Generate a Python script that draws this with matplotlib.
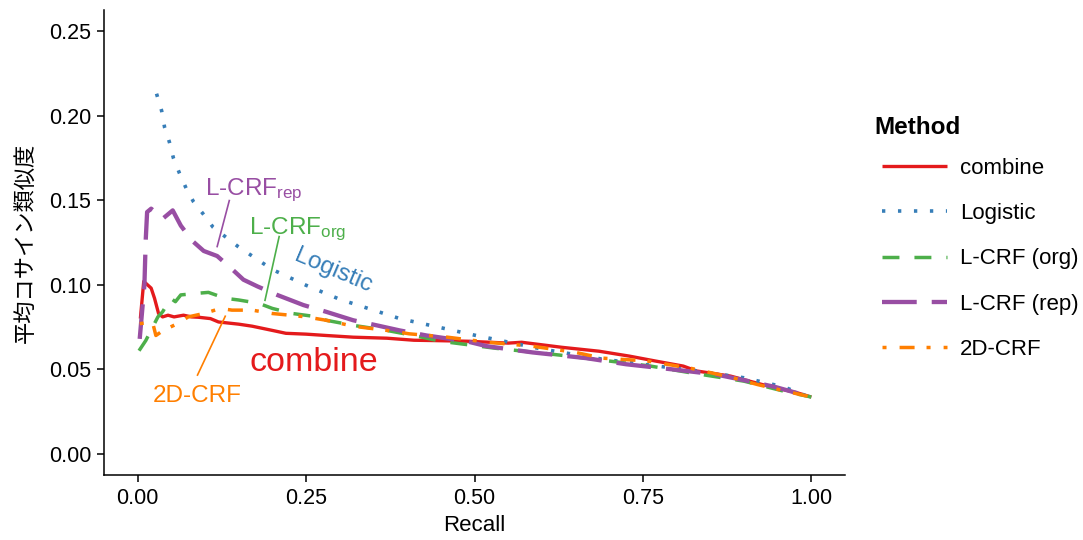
import matplotlib
matplotlib.use("Agg")
import matplotlib.pyplot as plt

plt.rcParams['font.family'] = ['Liberation Sans', 'Noto Sans CJK JP', 'DejaVu Sans']
plt.rcParams['mathtext.fontset'] = 'custom'
plt.rcParams['mathtext.rm'] = 'Liberation Sans'
plt.rcParams['mathtext.it'] = 'Liberation Sans'
plt.rcParams['lines.scale_dashes'] = False

# ---------------- data ----------------
combine_r = [0.004, 0.009, 0.02, 0.025, 0.031, 0.037, 0.045, 0.054, 0.068, 0.08, 0.09, 0.108, 0.12, 0.15,
             0.17, 0.2, 0.22, 0.25, 0.28, 0.32, 0.37, 0.41, 0.44, 0.49, 0.55, 0.57, 0.63, 0.685,
             0.73, 0.77, 0.81, 0.83, 0.88, 0.93, 0.98, 1.0]
combine_v = [0.080, 0.102, 0.098, 0.092, 0.083, 0.081, 0.082, 0.081, 0.082, 0.081, 0.0808, 0.080, 0.078, 0.0767,
             0.0755, 0.073, 0.0713, 0.0708, 0.070, 0.069, 0.0684, 0.0672, 0.067, 0.0666, 0.0655, 0.066, 0.063, 0.0607,
             0.0578, 0.0548, 0.0519, 0.049, 0.046, 0.0407, 0.036, 0.0336]

logistic_r = [0.028, 0.0355, 0.040, 0.047, 0.053, 0.062, 0.072, 0.083, 0.098, 0.112, 0.149, 0.2, 0.25,
              0.3, 0.389, 0.5, 0.6, 0.69, 0.83, 0.9, 0.96, 1.0]
logistic_v = [0.213, 0.203, 0.193, 0.1845, 0.175, 0.166, 0.157, 0.149, 0.1415, 0.134, 0.1226, 0.109, 0.0997,
              0.0914, 0.080, 0.0702, 0.062, 0.056, 0.049, 0.045, 0.0395, 0.033]

lcrf_org_r = [0.002, 0.012, 0.03, 0.037, 0.049, 0.056, 0.064, 0.09, 0.105, 0.13, 0.15, 0.18, 0.2, 0.23,
              0.26, 0.28, 0.32, 0.37, 0.415, 0.45, 0.53, 0.6, 0.64, 0.76, 0.82, 0.9, 0.96, 1.0]
lcrf_org_v = [0.061, 0.067, 0.081, 0.084, 0.092, 0.090, 0.094, 0.095, 0.0955, 0.092, 0.091, 0.089, 0.086, 0.083,
              0.0814, 0.079, 0.076, 0.073, 0.0696, 0.0666, 0.0625, 0.0596, 0.0578, 0.052, 0.048, 0.043, 0.037, 0.0336]

lcrf_rep_r = [0.003, 0.01, 0.012, 0.014, 0.02, 0.037, 0.052, 0.064, 0.081, 0.098, 0.118, 0.138, 0.157, 0.178,
              0.207, 0.246, 0.28, 0.32, 0.355, 0.389, 0.429, 0.488, 0.518, 0.586, 0.666, 0.725,
              0.793, 0.858, 0.907, 0.947, 1.0]
lcrf_rep_v = [0.068, 0.100, 0.127, 0.143, 0.145, 0.139, 0.144, 0.135, 0.126, 0.120, 0.117, 0.110, 0.103, 0.099,
              0.094, 0.088, 0.084, 0.079, 0.076, 0.073, 0.070, 0.0666, 0.0637, 0.060, 0.0566, 0.053,
              0.050, 0.047, 0.043, 0.0395, 0.0336]

crf2d_r = [0.003, 0.022, 0.027, 0.038, 0.059, 0.075, 0.098, 0.123, 0.14, 0.17, 0.2, 0.226, 0.25, 0.28,
           0.32, 0.35, 0.38, 0.403, 0.46, 0.52, 0.585, 0.65, 0.69, 0.755, 0.82, 0.88, 0.92, 0.955, 1.0]
crf2d_v = [0.077, 0.078, 0.070, 0.073, 0.077, 0.081, 0.083, 0.086, 0.085, 0.085, 0.083, 0.082, 0.081, 0.079,
           0.0755, 0.074, 0.0725, 0.071, 0.069, 0.066, 0.0637, 0.060, 0.0566, 0.055, 0.0507, 0.0454, 0.041, 0.0377, 0.0336]

methods = ['combine', 'Logistic', 'L-CRF (org)', 'L-CRF (rep)', '2D-CRF']
colors = ['#E41A1C', '#377EB8', '#4DAF4A', '#984EA3', '#FF7F00']
x_ticks = [0.00, 0.25, 0.50, 0.75, 1.00]
x_ticklabels = ['0.00', '0.25', '0.50', '0.75', '1.00']
y_ticks = [0.00, 0.05, 0.10, 0.15, 0.20, 0.25]
y_ticklabels = ['0.00', '0.05', '0.10', '0.15', '0.20', '0.25']

series = [(combine_r, combine_v), (logistic_r, logistic_v), (lcrf_org_r, lcrf_org_v),
          (lcrf_rep_r, lcrf_rep_v), (crf2d_r, crf2d_v)]
widths = [2.4, 2.6, 2.5, 3.1, 2.5]
dash_styles = ['solid', (0, (2.4, 9.1)), (0, (12.2, 10.8)), (0, (25, 10.8)), (0, (2.9, 9.4, 10.8, 8.6))]

# ---------------- figure ----------------
fig = plt.figure(figsize=(10.83, 5.40), dpi=100)
ax = fig.add_axes([104 / 1083, 65 / 540, 741 / 1083, 465 / 540])

for (r, v), name, c, lw, ls in zip(series, methods, colors, widths, dash_styles):
    ax.plot(r, v, color=c, lw=lw, linestyle=ls, label=name, solid_capstyle='butt',
            dash_capstyle='butt', solid_joinstyle='round')

ax.set_xlim(-0.05, 1.05)
ax.set_ylim(-0.0125, 0.2625)
ax.set_xticks(x_ticks)
ax.set_xticklabels(x_ticklabels)
ax.set_yticks(y_ticks)
ax.set_yticklabels(y_ticklabels)
ax.tick_params(labelsize=15.5, length=5, width=1.1, color='black', labelcolor='black', pad=4)
for s in ['top', 'right']:
    ax.spines[s].set_visible(False)
for s in ['left', 'bottom']:
    ax.spines[s].set_linewidth(1.1)
ax.set_xlabel('Recall', fontsize=16, labelpad=5)
ax.set_ylabel('平均コサイン類似度', fontsize=16, labelpad=8,
              family=['Noto Sans CJK JP', 'DejaVu Sans'])

# annotations
fs = 17.5
dy = 0.0027
ax.text(0.172, 0.1586 - dy, r'L-CRF$_{\mathrm{rep}}$', color=colors[3], fontsize=fs, ha='center', va='center')
ax.plot([0.136, 0.118], [0.1498, 0.1226], color=colors[3], lw=1.2)
ax.text(0.2374, 0.1356 - dy, r'L-CRF$_{\mathrm{org}}$', color=colors[2], fontsize=fs, ha='center', va='center')
ax.plot([0.210, 0.189], [0.1285, 0.0908], color=colors[2], lw=1.2)
ax.text(0.29, 0.1108 - dy, 'Logistic', color=colors[1], fontsize=fs, ha='center', va='center',
        rotation=-23, rotation_mode='anchor')
ax.text(0.262, 0.0566 - dy, 'combine', color=colors[0], fontsize=24.5, ha='center', va='center')
ax.text(0.0888, 0.0371 - dy, '2D-CRF', color=colors[4], fontsize=fs, ha='center', va='center')
ax.plot([0.130, 0.0888], [0.0814, 0.0466], color=colors[4], lw=1.2)

leg = ax.legend(loc='upper left', bbox_to_anchor=(882 / 1083, 1 - 158 / 540),
                bbox_transform=fig.transFigure, frameon=False,
                fontsize=16, handlelength=2.93, handletextpad=0.58, labelspacing=1.09,
                borderpad=0, borderaxespad=0)
fig.text(874 / 1083, 1 - 127 / 540, 'Method', fontsize=17.5, fontweight='bold',
         ha='left', va='center')

fig.savefig('out.png', dpi=100)
